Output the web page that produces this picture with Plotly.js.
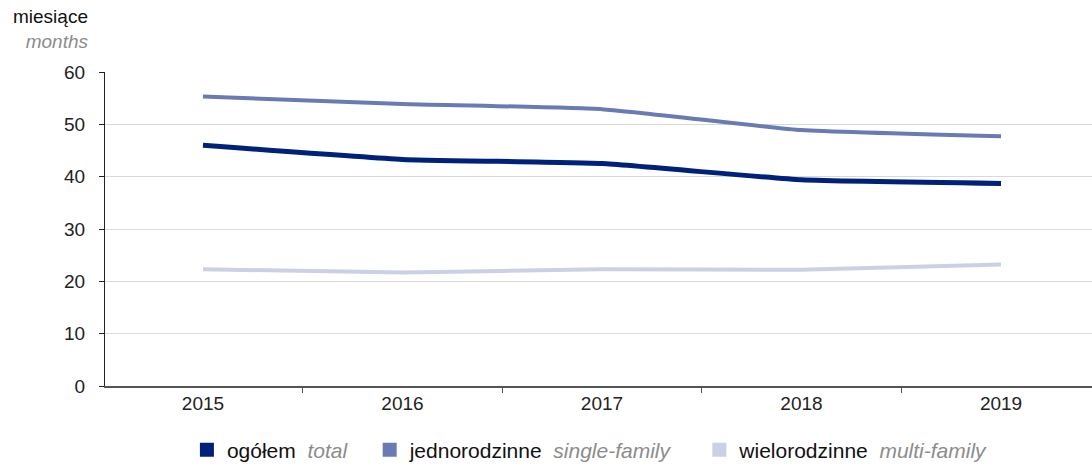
<!DOCTYPE html>
<html>
<head>
<meta charset="utf-8">
<script src="https://cdn.plot.ly/plotly-3.0.1.min.js"></script>
<style>
  html, body { margin: 0; padding: 0; background: #fff; }
  #chart { width: 1092px; height: 465px; }
</style>
</head>
<body>
<div id="chart"></div>
<script>
const years = ['2015', '2016', '2017', '2018', '2019'];
const total = [46.0, 43.3, 42.5, 39.4, 38.7];
const singleFamily = [55.3, 53.9, 52.9, 48.9, 47.7];
const multiFamily = [22.3, 21.7, 22.3, 22.2, 23.2];

const seriesNames = [
  'ogółem&nbsp;&nbsp;<i><span style="color:#8c8c8c">total</span></i>&nbsp;&nbsp;&nbsp;',
  'jednorodzinne&nbsp;&nbsp;<i><span style="color:#8c8c8c">single-family</span></i>&nbsp;&nbsp;&nbsp;&nbsp;',
  'wielorodzinne&nbsp;&nbsp;<i><span style="color:#8c8c8c">multi-family</span></i>'
];
const seriesColors = ['#00217a', '#6a7bb4', '#cbd0e5'];
const seriesWidths = [5, 4, 4];
const seriesValues = [total, singleFamily, multiFamily];

const traces = [];
[2, 1, 0].forEach(i => {
  traces.push({
    type: 'scatter', mode: 'lines', x: years, y: seriesValues[i],
    line: { color: seriesColors[i], width: seriesWidths[i], shape: 'spline', smoothing: 0.4 },
    showlegend: false, hoverinfo: 'skip'
  });
});
[0, 1, 2].forEach(i => {
  traces.push({
    type: 'scatter', mode: 'markers', x: [null], y: [null],
    name: seriesNames[i],
    marker: { symbol: 'square', size: 14, color: seriesColors[i] },
    showlegend: true
  });
});

const layout = {
  width: 1092, height: 465,
  margin: { l: 105, r: 0, t: 72, b: 79, autoexpand: false },
  paper_bgcolor: '#ffffff', plot_bgcolor: '#ffffff',
  font: { family: 'Liberation Sans, Arial, sans-serif', size: 19, color: '#222' },
  showlegend: true,
  legend: {
    orientation: 'h', xref: 'paper', x: 0.083, yref: 'paper', y: -0.204, yanchor: 'middle',
    font: { size: 21, color: '#111' }, itemwidth: 30, tracegroupgap: 0,
    traceorder: 'normal', bgcolor: 'rgba(0,0,0,0)'
  },
  xaxis: {
    type: 'category', range: [-0.491, 4.456],
    showgrid: false, zeroline: false,
    showline: true, linecolor: '#555', linewidth: 1.5,
    ticks: 'outside', tickson: 'boundaries', ticklen: 5, tickcolor: '#555',
    tickfont: { size: 19, color: '#222' }, fixedrange: true
  },
  yaxis: {
    range: [0, 60], dtick: 10, showgrid: true, gridcolor: '#d9d9d9', gridwidth: 1,
    zeroline: false, showline: true, linecolor: '#222', linewidth: 1,
    ticks: 'outside', ticklen: 5, tickcolor: '#222', ticklabelstandoff: 10,
    tickfont: { size: 19, color: '#222' }, fixedrange: true
  },
  annotations: [{
    xref: 'paper', yref: 'paper', x: 0, y: 1, xanchor: 'right', yanchor: 'bottom',
    xshift: -15, yshift: 18, align: 'right', showarrow: false,
    text: 'miesiące<br><i><span style="color:#8c8c8c">months</span></i>',
    font: { size: 19, color: '#111' }
  }]
};

Plotly.newPlot('chart', traces, layout, { displayModeBar: false, staticPlot: true });
</script>
</body>
</html>
